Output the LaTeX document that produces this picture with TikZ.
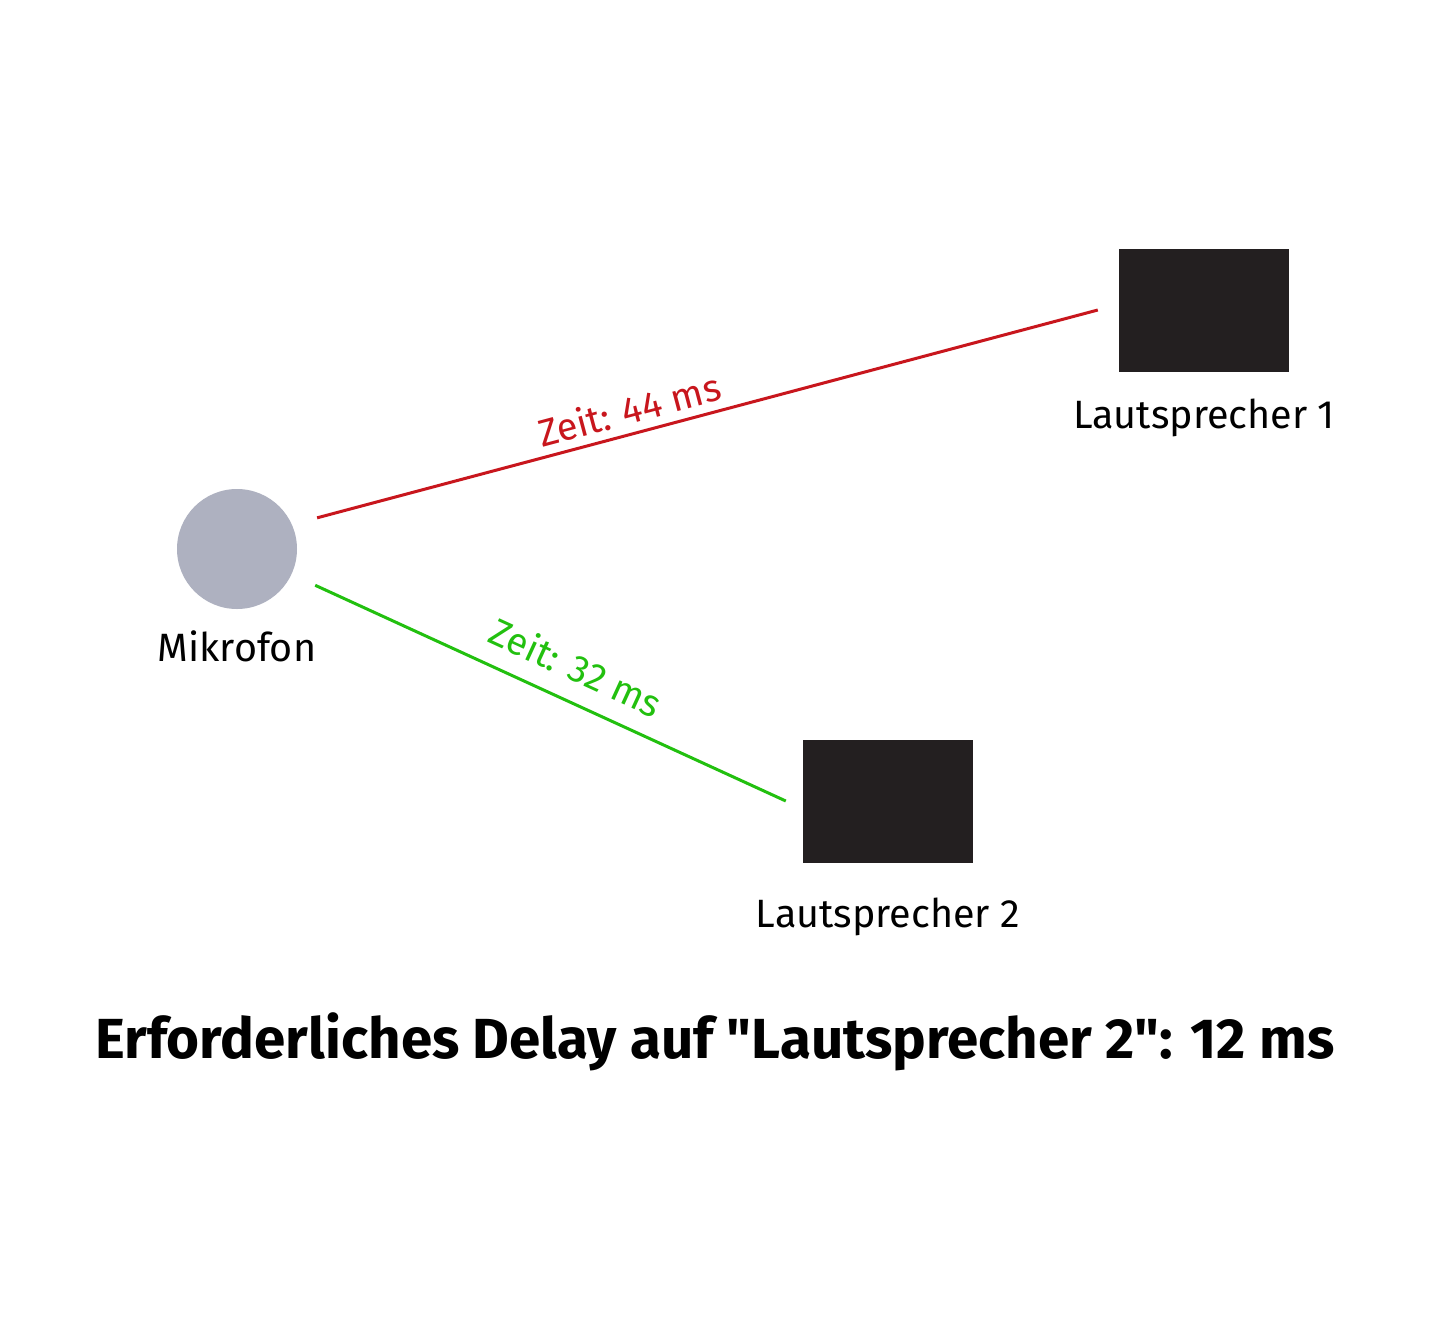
\documentclass[tikz,border=0pt]{standalone}
\usepackage{fontspec}
\setmainfont{Fira Sans}[Ligatures=TeXOff]
\usepackage{xcolor}
\usetikzlibrary{positioning,calc}

\definecolor{micgray}{HTML}{AEB1C0}
\definecolor{boxblack}{HTML}{231F20}
\definecolor{pathred}{HTML}{C8161D}
\definecolor{pathgreen}{HTML}{22C00F}

\tikzset{
    speaker/.style={fill=boxblack, draw=none, minimum width=170pt, minimum height=123pt, inner sep=0pt},
    mic/.style={circle, fill=micgray, draw=none, minimum size=120pt, inner sep=0pt},
    devlabel/.style={font=\fontsize{39.5}{44}\selectfont, anchor=base, inner sep=0pt},
    signal/.style={line width=3pt},
    timelabel/.style={font=\fontsize{38}{42}\selectfont, sloped, inner sep=0pt}
}

\begin{document}
\begin{tikzpicture}[x=1pt, y=-1pt]
    \useasboundingbox (0,0) rectangle (1440,1325);
    \fill[white] (0,0) rectangle (1440,1325);

    % Microphone
    \node[mic] (mic) at (237,549) {};
    \node[devlabel] (miclabel) at (237,661) {Mikrofon};

    % Speakers
    \node[speaker] (ls1) at (1204,310) {};
    \node[devlabel] (ls1label) at (1204,428) {Lautsprecher 1};
    \node[speaker] (ls2) at (888,801) {};
    \node[devlabel] (ls2label) at (888,927) {Lautsprecher 2};

    % Signal paths
    \draw[signal, pathred, shorten <=26pt] (mic.24) -- ($(ls1.west)+(-21,0)$)
        node[timelabel, pos=0.426, above=8pt, text=pathred] (t1) {Zeit: 44 ms};
    \draw[signal, pathgreen, shorten <=26pt] (mic.-25) -- ($(ls2.west)+(-17,0)$)
        node[timelabel, pos=0.547, above=18pt, text=pathgreen] (t2) {Zeit: 32 ms};

    % Result
    \node[font=\bfseries\fontsize{56.5}{60}\selectfont, anchor=base, inner sep=0pt] (result) at (715,1058)
        {Erforderliches Delay auf "Lautsprecher 2": 12 ms};
\end{tikzpicture}
\end{document}
